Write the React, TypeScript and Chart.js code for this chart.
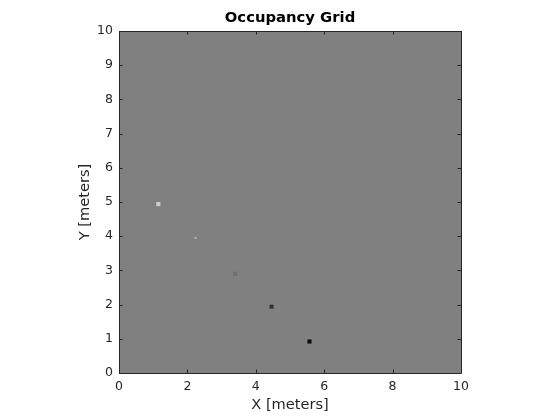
import React, { useEffect, useRef } from "react";
import { Chart, registerables } from "chart.js";

Chart.register(...registerables);

const cellX = [1.15, 2.24, 3.4, 4.46, 5.57];
const cellY = [4.94, 3.95, 2.9, 1.94, 0.92];
const cellShade = ["#cdcdcd", "#a8a8a8", "#6e6e6e", "#333333", "#0a0a0a"];
const xTicks = [0, 2, 4, 6, 8, 10];
const yTicks = [0, 1, 2, 3, 4, 5, 6, 7, 8, 9, 10];
const titleText = "Occupancy Grid";
const xLabel = "X [meters]";
const yLabel = "Y [meters]";

const FONT = "'DejaVu Sans', sans-serif";
const INK = "#262626";

const framePlugin = {
  id: "frame",
  beforeDatasetsDraw(chart: any) {
    const { ctx, chartArea: a } = chart;
    ctx.save();
    ctx.fillStyle = "#808080";
    ctx.fillRect(a.left, a.top, a.right - a.left, a.bottom - a.top);
    ctx.restore();
  },
  afterDraw(chart: any) {
    const { ctx, chartArea: a, scales } = chart;
    ctx.save();
    ctx.strokeStyle = INK;
    ctx.lineWidth = 1;
    ctx.beginPath();
    ctx.rect(Math.round(a.left) + 0.5, Math.round(a.top) + 0.5, Math.round(a.right - a.left), Math.round(a.bottom - a.top));
    ctx.stroke();
    const tl = 3.5;
    ctx.beginPath();
    for (const t of xTicks) {
      const x = Math.round(scales.x.getPixelForValue(t)) + 0.5;
      ctx.moveTo(x, a.bottom);
      ctx.lineTo(x, a.bottom - tl);
      ctx.moveTo(x, a.top);
      ctx.lineTo(x, a.top + tl);
    }
    for (const t of yTicks) {
      const y = Math.round(scales.y.getPixelForValue(t)) + 0.5;
      ctx.moveTo(a.left, y);
      ctx.lineTo(a.left + tl, y);
      ctx.moveTo(a.right, y);
      ctx.lineTo(a.right - tl, y);
    }
    ctx.stroke();

    ctx.fillStyle = "#000";
    ctx.textAlign = "center";
    ctx.textBaseline = "middle";
    ctx.font = `bold 14.8px ${FONT}`;
    ctx.fillText(titleText, (a.left + a.right) / 2, 18);

    ctx.fillStyle = INK;
    ctx.font = `14.6px ${FONT}`;
    ctx.fillText(xLabel, (a.left + a.right) / 2, 405);
    ctx.translate(85, (a.top + a.bottom) / 2);
    ctx.rotate(-Math.PI / 2);
    ctx.fillText(yLabel, 0, 0);
    ctx.restore();
  },
};

export default function App() {
  const ref = useRef<HTMLCanvasElement | null>(null);
  useEffect(() => {
    if (!ref.current) return;
    const chart = new Chart(ref.current, {
      type: "scatter",
      data: {
        datasets: [
          {
            data: cellX.map((x, i) => ({ x, y: cellY[i] })),
            pointStyle: "rect",
            pointRadius: [2.9, 1.6, 2.9, 2.9, 2.9],
            pointBorderWidth: 0,
            pointBackgroundColor: cellShade,
            pointBorderColor: cellShade,
          } as any,
        ],
      },
      plugins: [framePlugin],
      options: {
        animation: false,
        responsive: false,
        layout: { padding: { left: 0, right: 99, top: 31, bottom: 0 } },
        plugins: { legend: { display: false }, tooltip: { enabled: false }, title: { display: false } },
        scales: {
          x: {
            type: "linear",
            min: 0,
            max: 10,
            afterBuildTicks: (s: any) => {
              s.ticks = xTicks.map((v) => ({ value: v }));
            },
            ticks: { font: { family: FONT, size: 12.5 }, color: INK, padding: 6, maxRotation: 0 },
            grid: { display: false, drawTicks: false, tickLength: 0 },
            border: { display: false },
            afterFit: (s: any) => {
              s.height = 47;
            },
          },
          y: {
            type: "linear",
            min: 0,
            max: 10,
            afterBuildTicks: (s: any) => {
              s.ticks = yTicks.map((v) => ({ value: v }));
            },
            ticks: { font: { family: FONT, size: 12.5 }, color: INK, padding: 6 },
            grid: { display: false, drawTicks: false, tickLength: 0 },
            border: { display: false },
            afterFit: (s: any) => {
              s.width = 119;
            },
          },
        },
      },
    });
    return () => chart.destroy();
  }, []);
  return (
    <div style={{ position: "fixed", left: 0, top: 0, width: 560, height: 420, background: "#fff" }}>
      <canvas ref={ref} width={560} height={420} style={{ width: 560, height: 420 }} />
    </div>
  );
}
